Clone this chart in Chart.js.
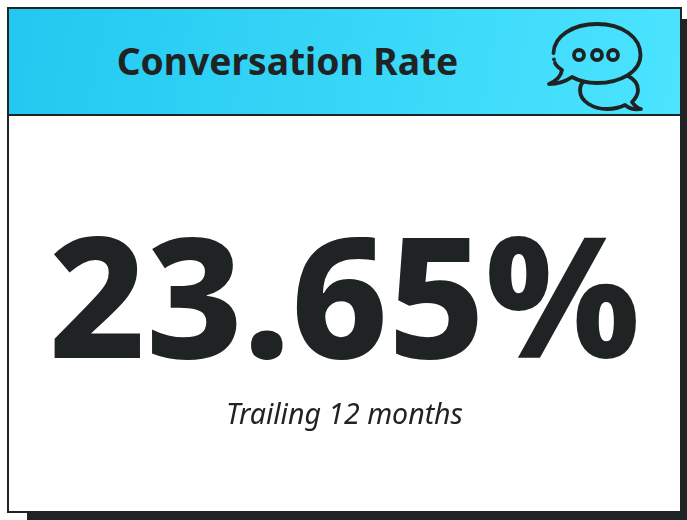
<!DOCTYPE html>
<html>
<head>
<meta charset="utf-8">
<script src="https://cdn.jsdelivr.net/npm/chart.js@4"></script>
<style>
  html, body { margin: 0; padding: 0; background: #fff; overflow: hidden; }
  body { width: 687px; height: 520px; position: relative; font-family: "Noto Sans", sans-serif; }
  .shadow { position: absolute; left: 27px; top: 19px; width: 660px; height: 501px; background: #202323; }
  .card { position: absolute; left: 7px; top: 7px; width: 671px; height: 502px; background: #fff; border: 2px solid #202323; }
  .head { position: absolute; left: 0; top: 0; width: 671px; height: 105px; border-bottom: 2px solid #202323;
    background: linear-gradient(100deg, #22c8f0 0%, #4ce4ff 100%); }
  .head h1 { position: absolute; left: 0; top: -1px; width: 557px; margin: 0; text-align: center; line-height: 105px;
    font-size: 37.2px; font-weight: 700; color: #202323; }
  .body { position: absolute; left: 0; top: 107px; width: 671px; height: 395px; }
  .icon { position: absolute; left: 0; top: 0; }
</style>
</head>
<body>
<div class="shadow"></div>
<div class="card">
  <div class="head"><h1 id="heading"></h1></div>
  <div class="body"><canvas id="kpiChart" width="671" height="395"></canvas></div>
</div>
<svg class="icon" width="687" height="520" viewBox="0 0 687 520" fill="none" stroke="#202323" stroke-width="3.8" stroke-linecap="round" stroke-linejoin="round">
  <path d="M553.5 53 C554 36 573 24 597 24 C622 24 640.5 37 640.5 55 C640.5 72 620 83 597 83 C587 83 579 81 572 77 C565 82 557 84 549 84 C556 81 561 76 562 70 C559 68 556 66 555 63"/>
  <path d="M554 59.5 L554 59.5"/>
  <path d="M628 76 C634 79 638 84 638 90 C638 95 635 99 632 102 C634 105 637 108 641 109 C636 110 630 109 625 105 C619 108 613 109 607 109 C594 109 580 102 580 90 C580 87 581 84 583 82"/>
  <circle cx="579" cy="55" r="5"/><circle cx="597" cy="55" r="5"/><circle cx="613" cy="55" r="5"/>
</svg>
<script>
const headings = ["Conversation Rate"];
const categories = ["Trailing 12 months"];
const values = [23.65];

document.getElementById("heading").textContent = headings[0];

new Chart(document.getElementById("kpiChart"), {
  type: "bar",
  data: {
    labels: categories,
    datasets: [{ data: values, hidden: true }]
  },
  options: {
    responsive: false,
    animation: false,
    layout: { padding: 0 },
    scales: { x: { display: false }, y: { display: false } },
    plugins: {
      legend: { display: false },
      tooltip: { enabled: false },
      title: {
        display: true,
        text: `${values[0]}%`,
        color: "#202323",
        font: { family: "'Noto Sans'", size: 168, weight: 800, lineHeight: 1 },
        padding: { top: 110, bottom: 0 }
      },
      subtitle: {
        display: true,
        text: categories[0],
        color: "#202323",
        font: { family: "'Noto Sans'", size: 28.5, style: "italic", weight: 400, lineHeight: 1.2 },
        padding: { top: 5, bottom: 0 }
      }
    }
  }
});
</script>
</body>
</html>
